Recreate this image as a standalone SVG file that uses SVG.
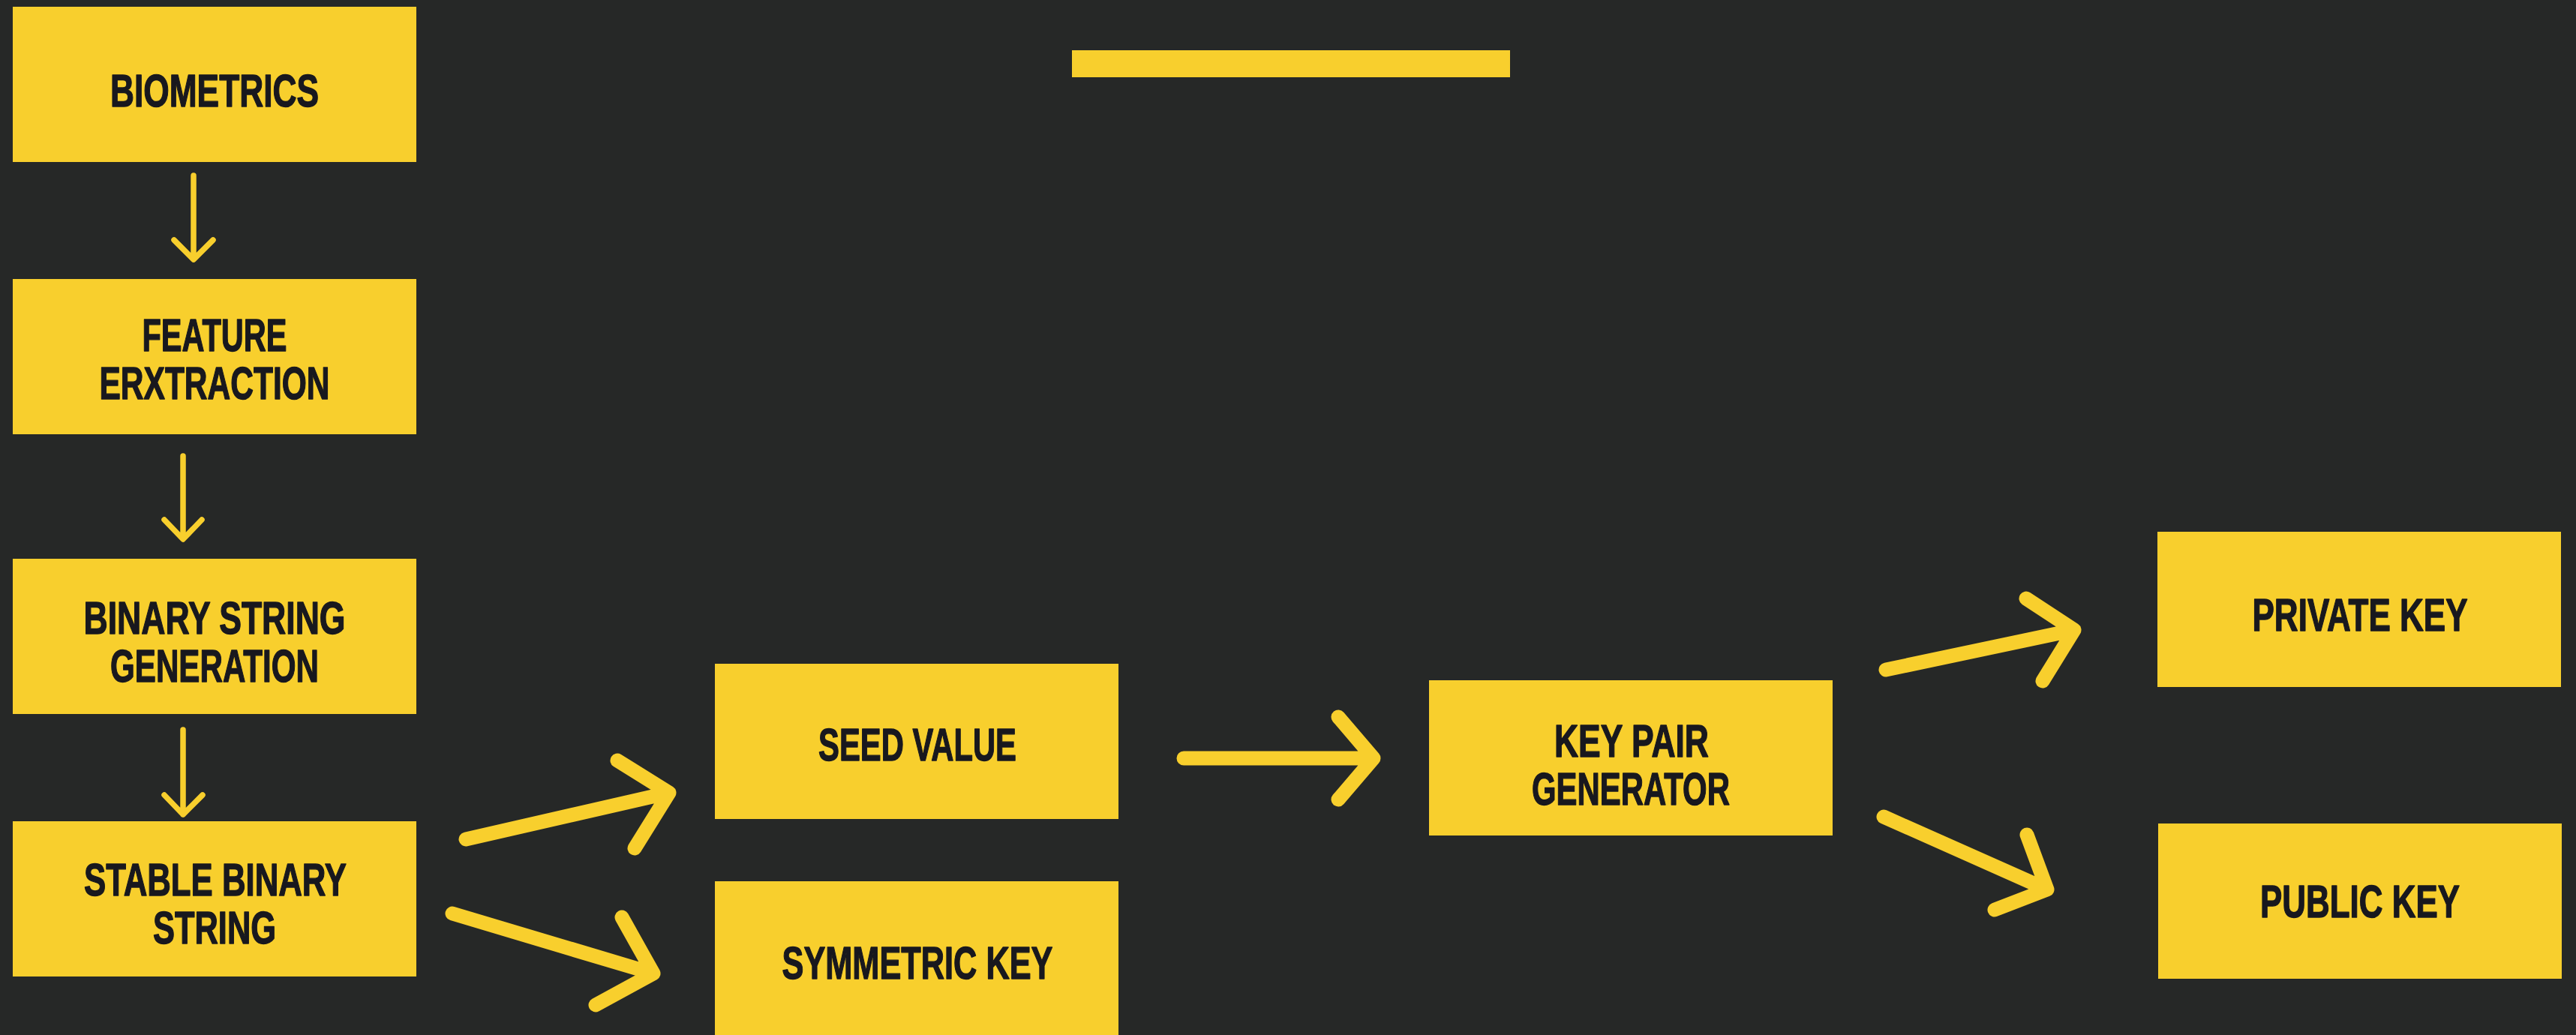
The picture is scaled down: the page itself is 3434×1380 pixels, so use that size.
<svg xmlns="http://www.w3.org/2000/svg" width="3434" height="1380" viewBox="0 0 3434 1380">
  <style>
    .box { fill: #F8CF2D; }
    .lbl { font-family: "Liberation Sans Narrow", "Liberation Sans", "DejaVu Sans Condensed", sans-serif; font-weight: 700; font-size: 62px; fill: #18181E; stroke: #18181E; stroke-width: 1.4; stroke-linejoin: round; text-anchor: middle; }
    .thin { fill: none; stroke: #F8CF2D; stroke-width: 7.5; stroke-linecap: round; stroke-linejoin: round; }
    .thick { fill: none; stroke: #F8CF2D; stroke-width: 19; stroke-linecap: round; stroke-linejoin: round; }
  </style>

  <rect x="0" y="0" width="3434" height="1380" fill="#262827"/>

  <!-- title bar -->
  <rect x="1429" y="67" width="584" height="36" fill="#F8CF2D"/>

  <g id="biometrics">
    <rect class="box" x="17" y="9" width="538" height="207"/>
    <text class="lbl" x="286" y="142" textLength="278" lengthAdjust="spacingAndGlyphs">BIOMETRICS</text>
  </g>

  <g id="feature-extraction">
    <rect class="box" x="17" y="372" width="538" height="207"/>
    <text class="lbl" x="286" y="468" textLength="193" lengthAdjust="spacingAndGlyphs">FEATURE</text>
    <text class="lbl" x="286" y="532" textLength="307" lengthAdjust="spacingAndGlyphs">ERXTRACTION</text>
  </g>

  <g id="binary-string-generation">
    <rect class="box" x="17" y="745" width="538" height="207"/>
    <text class="lbl" x="286" y="845" textLength="349" lengthAdjust="spacingAndGlyphs">BINARY STRING</text>
    <text class="lbl" x="286" y="909" textLength="278" lengthAdjust="spacingAndGlyphs">GENERATION</text>
  </g>

  <g id="stable-binary-string">
    <rect class="box" x="17" y="1095" width="538" height="207"/>
    <text class="lbl" x="287" y="1194" textLength="350" lengthAdjust="spacingAndGlyphs">STABLE BINARY</text>
    <text class="lbl" x="286" y="1258" textLength="164" lengthAdjust="spacingAndGlyphs">STRING</text>
  </g>

  <g id="seed-value">
    <rect class="box" x="953" y="885" width="538" height="207"/>
    <text class="lbl" x="1223" y="1014" textLength="264" lengthAdjust="spacingAndGlyphs">SEED VALUE</text>
  </g>

  <g id="symmetric-key">
    <rect class="box" x="953" y="1175" width="538" height="207"/>
    <text class="lbl" x="1223" y="1305" textLength="361" lengthAdjust="spacingAndGlyphs">SYMMETRIC KEY</text>
  </g>

  <g id="key-pair-generator">
    <rect class="box" x="1905" y="907" width="538" height="207"/>
    <text class="lbl" x="2175" y="1009" textLength="206" lengthAdjust="spacingAndGlyphs">KEY PAIR</text>
    <text class="lbl" x="2174" y="1073" textLength="264" lengthAdjust="spacingAndGlyphs">GENERATOR</text>
  </g>

  <g id="private-key">
    <rect class="box" x="2876" y="709" width="538" height="207"/>
    <text class="lbl" x="3146" y="841" textLength="287" lengthAdjust="spacingAndGlyphs">PRIVATE KEY</text>
  </g>

  <g id="public-key">
    <rect class="box" x="2877" y="1098" width="538" height="207"/>
    <text class="lbl" x="3146" y="1223" textLength="266" lengthAdjust="spacingAndGlyphs">PUBLIC KEY</text>
  </g>

  <g id="connectors">
    <!-- vertical flow on the left -->
    <path class="thin" d="M258 234 V345 M232 320 L258 346 L284 320"/>
    <path class="thin" d="M244 608 V718 M219 693 L244 719 L269 693"/>
    <path class="thin" d="M244 973 V1086 M219 1060 L244 1086 L270 1060"/>
    <!-- stable binary string to seed value / symmetric key -->
    <path class="thick" d="M621 1119 L892 1057 M823 1014 L892 1057 L846 1131"/>
    <path class="thick" d="M603 1218 L871 1298 M829 1223 L871 1298 L794 1340"/>
    <!-- seed value to key pair generator -->
    <path class="thick" d="M1578 1011 H1831 M1784 956 L1831 1011 L1784 1066"/>
    <!-- key pair generator to private / public key -->
    <path class="thick" d="M2514 893 L2765 840 M2701 798 L2765 840 L2723 908"/>
    <path class="thick" d="M2511 1089 L2729 1186 M2702 1113 L2729 1186 L2659 1213"/>
  </g>
</svg>
